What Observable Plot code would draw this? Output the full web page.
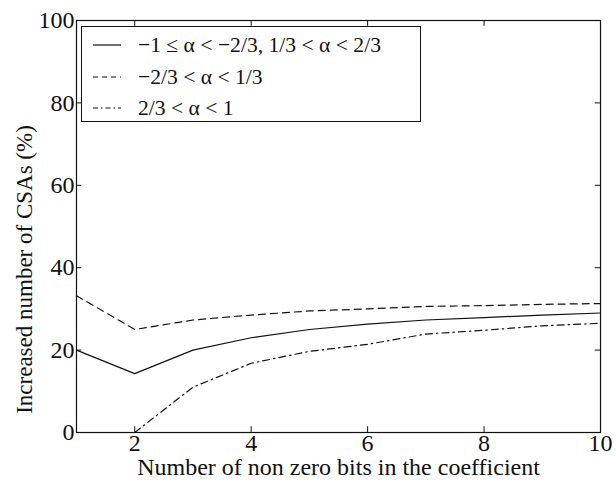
<!DOCTYPE html>
<html>
<head>
<meta charset="utf-8">
<script src="https://cdn.jsdelivr.net/npm/d3@7"></script>
<script src="https://cdn.jsdelivr.net/npm/@observablehq/plot@0.6"></script>
</head>
<body style="margin:0;padding:0;background:#fff">
<div id="chart" style="position:relative;width:616px;height:480px;font-family:'Liberation Serif';color:#111"></div>
<script>
// Number of non-zero bits in the coefficient
const bits = [1, 2, 3, 4, 5, 6, 7, 8, 9, 10];
// Increased number of CSAs (%) for each range of alpha
const rangeA = [20.0, 14.3, 20.0, 23.0, 25.0, 26.3, 27.3, 27.9, 28.5, 29.0];   // −1 ≤ α < −2/3, 1/3 < α < 2/3
const rangeB = [33.2, 25.0, 27.3, 28.5, 29.5, 30.0, 30.6, 30.8, 31.1, 31.3];   // −2/3 < α < 1/3
const bitsC  = [2, 3, 4, 5, 6, 7, 8, 9, 10];
const rangeC = [0.0, 11.0, 16.8, 19.7, 21.4, 23.9, 24.8, 25.9, 26.5];           // 2/3 < α < 1

const xTicks = [2, 4, 6, 8, 10];
const yTicks = [0, 20, 40, 60, 80, 100];

const seriesNames = ["−1 ≤ α < −2/3, 1/3 < α < 2/3", "−2/3 < α < 1/3", "2/3 < α < 1"];
const seriesDash = ["none", "7,5", "7,4,1.5,4"];
const legendDash = ["", "5,4", "5,3,1.5,3"];
const xTitle = "Number of non zero bits in the coefficient";
const yTitle = "Increased number of CSAs (%)";

const serif = "Liberation Serif";

const toRows = (xs, ys) => xs.map((x, i) => ({x, y: ys[i]}));
const rowsA = toRows(bits, rangeA);
const rowsB = toRows(bits, rangeB);
const rowsC = toRows(bitsC, rangeC);

const ink = "#111";
const lineStyle = (i) => ({x: "x", y: "y", stroke: ink, strokeWidth: 1.2, strokeDasharray: seriesDash[i], curve: "linear"});

const plot = Plot.plot({
  width: 616,
  height: 480,
  marginLeft: 76,
  marginRight: 16,
  marginTop: 20,
  marginBottom: 48,
  style: {fontFamily: serif, fontSize: "24px", background: "white", color: ink},
  x: {domain: [1, 10]},
  y: {domain: [0, 100]},
  marks: [
    Plot.line(rowsA, lineStyle(0)),
    Plot.line(rowsB, lineStyle(1)),
    Plot.line(rowsC, lineStyle(2)),
    Plot.frame({stroke: ink, strokeWidth: 1.2}),
    // inward tick marks on all four sides
    Plot.ruleX(xTicks, {x: d => d, y1: 0, y2: 1.4, stroke: ink}),
    Plot.ruleX(xTicks, {x: d => d, y1: 100, y2: 98.6, stroke: ink}),
    Plot.ruleY(yTicks, {y: d => d, x1: 1, x2: 1.09, stroke: ink}),
    Plot.ruleY(yTicks, {y: d => d, x1: 10, x2: 9.91, stroke: ink}),
    Plot.axisX(xTicks, {tickSize: 0, tickPadding: 1, fontSize: 24, label: null}),
    Plot.axisY(yTicks, {tickSize: 0, tickPadding: 2, fontSize: 24, label: null}),
    Plot.text([xTitle], {text: d => d, frameAnchor: "bottom", textAnchor: "middle", lineAnchor: "middle", dy: 35, fontSize: 24}),
    Plot.text([yTitle], {text: d => d, frameAnchor: "left", textAnchor: "middle", lineAnchor: "middle", rotate: -90, dx: -52, dy: 43, fontSize: 23})
  ]
});
// make sure every label uses the serif face
plot.querySelectorAll("text").forEach(t => t.setAttribute("font-family", serif));

const chart = document.getElementById("chart");
chart.appendChild(plot);

// legend box
const legend = document.createElement("div");
legend.style.cssText = "position:absolute;left:81px;top:26px;width:340px;height:96px;border:1px solid #111;background:#fff;box-sizing:border-box;font-family:'Liberation Serif'";
const rowTops = [3, 35, 66];
seriesNames.forEach((name, i) => {
  const row = document.createElement("div");
  row.style.cssText = `position:absolute;left:0;top:${rowTops[i]}px;height:30px;display:flex;align-items:center;font-size:21.6px;white-space:nowrap;font-family:'Liberation Serif'`;
  row.innerHTML = `<svg width="28" height="10" style="margin-left:11px;margin-right:17px"><line x1="0" y1="5" x2="28" y2="5" stroke="${ink}" stroke-width="1.2" stroke-dasharray="${legendDash[i]}"/></svg><span>${name}</span>`;
  legend.appendChild(row);
});
chart.appendChild(legend);
</script>
</body>
</html>
